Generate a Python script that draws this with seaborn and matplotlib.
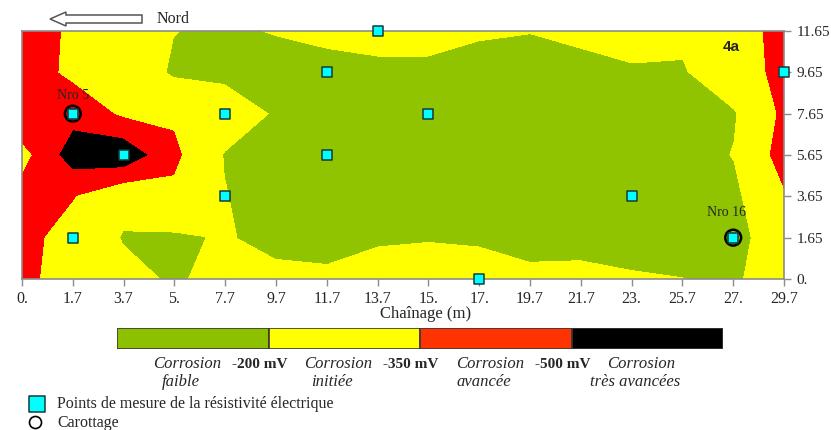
import numpy as np
import pandas as pd
import seaborn as sns
import matplotlib.pyplot as plt
from matplotlib.patches import Polygon

#///// Data
chainage = ['0.', '1.7', '3.7', '5.', '7.7', '9.7', '11.7', '13.7', '15.', '17.',
            '19.7', '21.7', '23.', '25.7', '27.', '29.7']
hauteur = ['0.', '1.65', '3.65', '5.65', '7.65', '9.65', '11.65']

# half-cell potential (mV), one row per height, bottom row first
potentiel = [
    [-390, -280, -230, -190, -230, -230, -215, -260, -280, -260, -230, -235, -215, -203, -180, -290],
    [-400, -290, -195, -185, -210, -170, -175, -185, -192, -185, -160, -160, -150, -150, -150, -300],
    [-420, -360, -230, -320, -205, -150, -140, -130, -130, -130, -130, -140, -140, -150, -175, -340],
    [-300, -580, -620, -380, -195, -150, -120, -120, -120, -120, -120, -120, -120, -150, -205, -410],
    [-498, -450, -330, -330, -280, -190, -140, -130, -140, -130, -140, -140, -160, -170, -190, -380],
    [-430, -320, -290, -185, -170, -140, -150, -165, -165, -130, -150, -150, -185, -190, -300, -380],
    [-420, -330, -280, -203, -180, -210, -240, -260, -260, -225, -205, -240, -260, -225, -310, -380],
]

pts_chainage = ['13.7', '29.7', '11.7', '1.7', '7.7', '15.', '3.7', '11.7', '7.7', '23.', '1.7', '27.', '17.']
pts_hauteur = ['11.65', '9.65', '9.65', '7.65', '7.65', '7.65', '5.65', '5.65', '3.65', '3.65', '1.65', '1.65', '0.']

carot_chainage = ['1.7', '27.']
carot_hauteur = ['7.65', '1.65']
carot_noms = ['Nro 5', 'Nro 16']

niveaux = [-1000, -500, -350, -200, 0]
classes = ['Corrosion\nfaible', 'Corrosion\ninitiée', 'Corrosion\navancée', 'Corrosion\ntrès avancées']
seuils = ['-200 mV', '-350 mV', '-500 mV']

couleurs_carte = ['#000000', '#ff0000', '#ffff00', '#90c300']
couleurs_barre = ['#8dc100', '#ffff00', '#ff3300', '#000000']

#///// Style
sns.set_style('white')
plt.rcParams['font.family'] = ['Liberation Serif', 'DejaVu Serif']

W, H = 831, 430
def box(l, t, r, b):
    # pixel box (from top-left) -> figure fraction
    return [l / W, 1 - b / H, (r - l) / W, (b - t) / H]

fig = plt.figure(figsize=(8.31, 4.30), dpi=100)

#///// Contour map
ax = fig.add_axes(box(22, 31, 784, 279))
ix = np.arange(len(chainage))
iy = np.arange(len(hauteur))
ax.contourf(ix, iy, np.array(potentiel), levels=niveaux, colors=couleurs_carte)

pts = pd.DataFrame({'x': [chainage.index(c) for c in pts_chainage],
                    'y': [hauteur.index(h) for h in pts_hauteur]})
car = pd.DataFrame({'x': [chainage.index(c) for c in carot_chainage],
                    'y': [hauteur.index(h) for h in carot_hauteur],
                    'nom': carot_noms})

ax.scatter(car['x'], car['y'], s=130, facecolors='none', edgecolors='black',
           linewidths=1.8, zorder=4, clip_on=False)
sns.scatterplot(data=pts, x='x', y='y', marker='s', s=55, color='#00ffff',
                edgecolor='#123c3c', linewidth=1.1, ax=ax, zorder=5, clip_on=False)
for (_, r), off in zip(car.iterrows(), [(0, 13), (-5, 18)]):
    ax.annotate(r['nom'], (r['x'], r['y']), xytext=off, textcoords='offset points',
                ha='center', va='center', fontsize=10)

ax.set_xlim(0, len(chainage) - 1)
ax.set_ylim(0, len(hauteur) - 1)
ax.set_xticks(ix)
ax.set_xticklabels(chainage)
ax.set_yticks(iy)
ax.set_yticklabels(hauteur)
ax.yaxis.tick_right()
ax.set_xlabel('')
ax.set_ylabel('')
ax.tick_params(axis='x', bottom=True, length=5, width=1, color='#8c8c8c', direction='out',
               labelsize=11.5, pad=3.5)
ax.tick_params(axis='y', right=True, left=False, length=5, width=1, color='#8c8c8c',
               direction='out', labelsize=11, pad=4)
for s in ax.spines.values():
    s.set_color('#8c8c8c')
    s.set_linewidth(1.2)

#///// Colour scale bar
bar = fig.add_axes(box(117, 328, 723, 349))
bar.barh(0, 1, left=np.arange(len(classes)), height=1, color=couleurs_barre,
         edgecolor='#3a3a3a', linewidth=1.2)
bar.set_xlim(0, len(classes))
bar.set_ylim(-0.5, 0.5)
bar.axis('off')

#///// Annotations in pixel space
ov = fig.add_axes([0, 0, 1, 1])
ov.set_xlim(0, W)
ov.set_ylim(H, 0)
ov.axis('off')

# north arrow
ov.add_patch(Polygon([(50, 19), (66, 12), (66, 15), (142, 15), (142, 23), (66, 23), (66, 26)],
                     closed=True, facecolor='white', edgecolor='#555555', linewidth=1.1))
ov.text(157, 19, 'Nord', fontsize=11.5, va='center', ha='left')
ov.text(731, 47, '4a', fontsize=11, fontweight='bold', family=['Liberation Sans', 'DejaVu Sans'],
        ha='center', va='center')
ov.text(426, 314, 'Chaînage (m)', fontsize=12, ha='center', va='center')

seg = (723 - 117) / len(classes)
for i, c in enumerate(classes):
    l1, l2 = c.split('\n')
    xc = 117 + seg * (i + 0.46)
    ov.text(xc, 364, l1, fontsize=12, style='italic', ha='center', va='center')
    ov.text(xc - 6, 382, l2, fontsize=12, style='italic', ha='center', va='center')
for i, s in enumerate(seuils):
    ov.text(117 + seg * (i + 1) - 9, 364, s, fontsize=11, fontweight='bold',
            ha='center', va='center')

ov.scatter([37], [404], marker='s', s=120, color='#00ffff', edgecolor='#123c3c', linewidth=1.1)
ov.text(57, 404, 'Points de mesure de la résistivité électrique', fontsize=11.5, va='center')
ov.scatter([35], [422], marker='o', s=75, facecolors='white', edgecolors='black', linewidths=1.2)
ov.text(57, 423, 'Carottage', fontsize=11.5, va='center')

plt.savefig('out.png', dpi=100)
